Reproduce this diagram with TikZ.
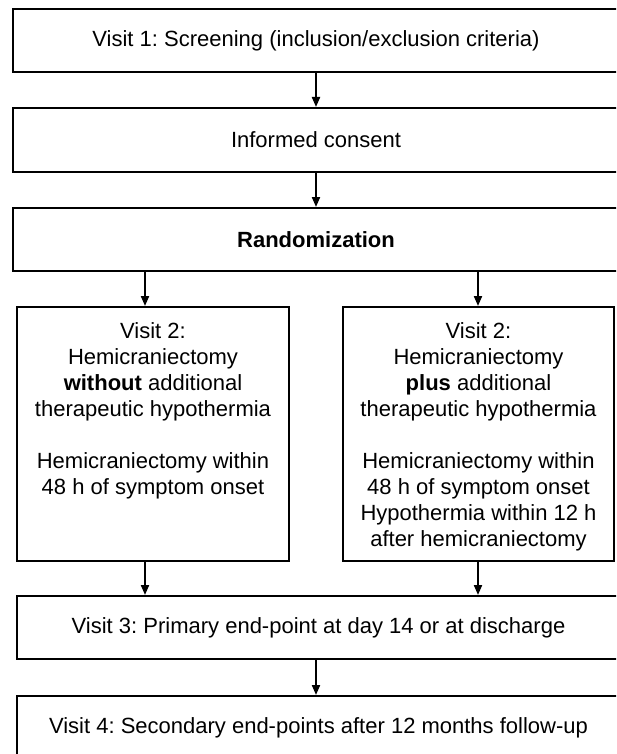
\documentclass[tikz,border=0pt]{standalone}
\usepackage{fontspec}
\setmainfont{Liberation Sans}
\usetikzlibrary{arrows.meta}
\frenchspacing
\begin{document}
\begin{tikzpicture}[x=1pt,y=-1pt,
  box/.style={draw=black,line width=2pt,inner sep=0pt,font=\fontsize{22}{26}\selectfont},
  txt/.style={inner sep=0pt,align=center,anchor=north,font=\fontsize{22}{26}\selectfont},
  arr/.style={line width=2pt,-{Triangle[width=8pt,length=10pt]}}]
\clip (0,0) rectangle (616,754);
\fill[white] (0,0) rectangle (616,754);
% top boxes
\node[box,minimum width=606pt,minimum height=63pt] (b1) at (316,40.5) {Visit 1: Screening (inclusion/exclusion criteria)};
\node[box,minimum width=606pt,minimum height=64pt] (b2) at (316,140) {Informed consent};
\node[box,minimum width=606pt,minimum height=63pt] (b3) at (316,239.5) {\bfseries Randomization};
% branch boxes
\node[box,minimum width=272pt,minimum height=254pt] (L) at (153,434) {};
\node[box,minimum width=271pt,minimum height=254pt] (R) at (478.5,434) {};
\node[txt] (Lt) at ([yshift=-16pt]L.north) {Visit 2:\\Hemicraniectomy\\\textbf{without} additional\\therapeutic hypothermia\\[26pt]Hemicraniectomy within\\48 h of symptom onset};
\node[txt] (Rt) at ([yshift=-16pt]R.north) {Visit 2:\\Hemicraniectomy\\\textbf{plus} additional\\therapeutic hypothermia\\[26pt]Hemicraniectomy within\\48 h of symptom onset\\Hypothermia within 12 h\\after hemicraniectomy};
% bottom boxes
\node[box,minimum width=603pt,minimum height=63pt] (b4) at (318.5,627.5) {Visit 3: Primary end-point at day 14 or at discharge};
\node[box,minimum width=603pt,minimum height=63pt] (b5) at (318.5,727.5) {Visit 4: Secondary end-points after 12 months follow-up};
% connector columns
\coordinate (cm) at (316,0);
\coordinate (la) at (145,0);
\coordinate (ra) at (478,0);
\draw[arr] (b1.south -| cm) -- (b2.north -| cm);
\draw[arr] (b2.south -| cm) -- (b3.north -| cm);
\draw[arr] (b3.south -| la) -- (L.north -| la);
\draw[arr] (b3.south -| ra) -- (R.north -| ra);
\draw[arr] (L.south -| la) -- (b4.north -| la);
\draw[arr] (R.south -| ra) -- (b4.north -| ra);
\draw[arr] (b4.south -| cm) -- (b5.north -| cm);
\end{tikzpicture}
\end{document}
